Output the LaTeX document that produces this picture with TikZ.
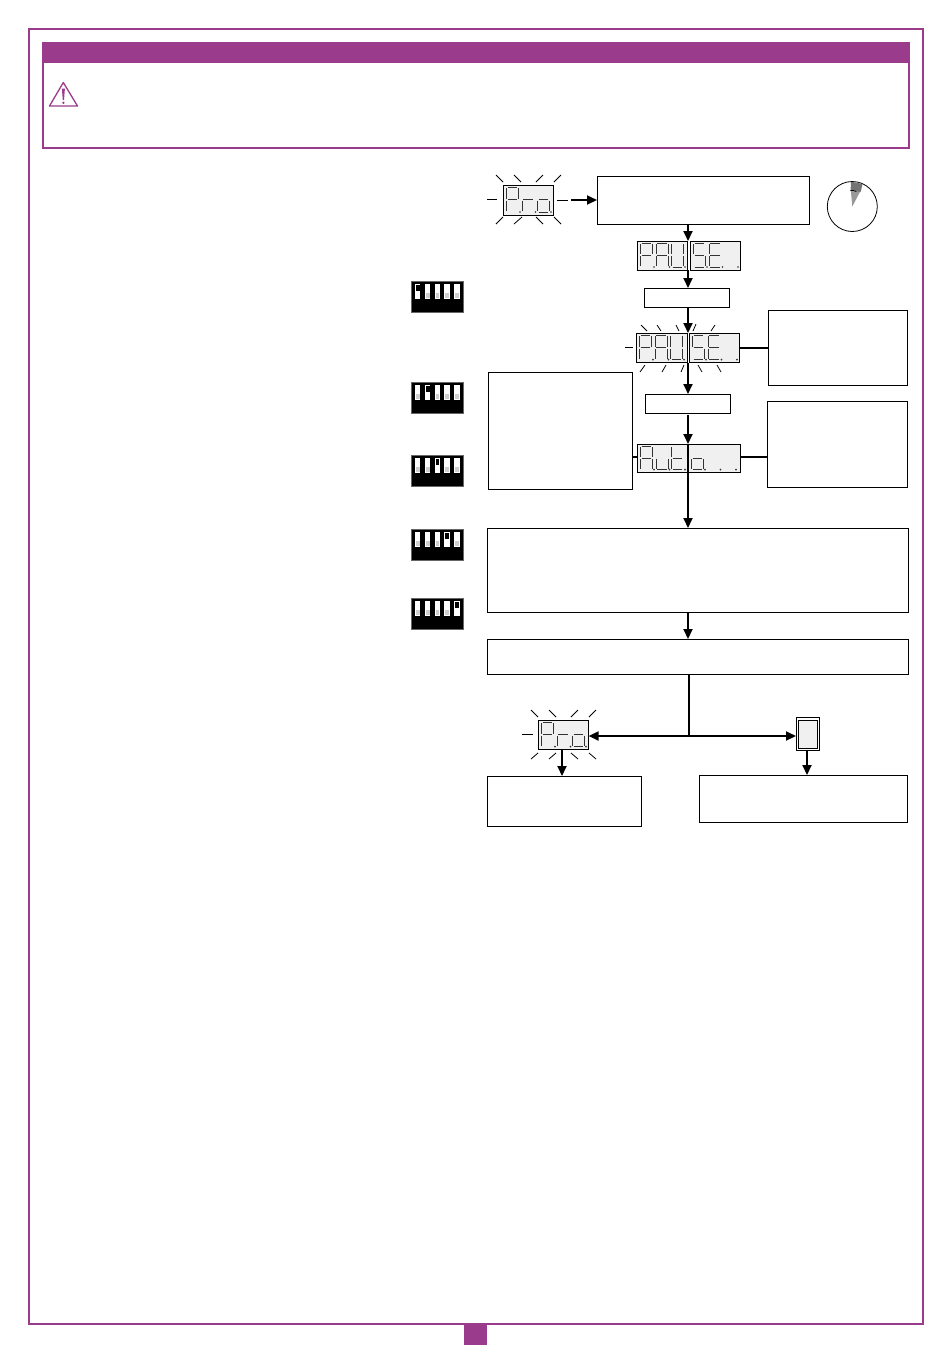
\documentclass[tikz,border=0pt]{standalone}
\usetikzlibrary{arrows.meta}
\definecolor{brand}{HTML}{9B3B8C}
\definecolor{lcdfill}{HTML}{F0F0F0}
\definecolor{dipgray}{HTML}{CFCFCF}
\expandafter\def\csname lcdseg@a\endcsname{(.1,0)--(.9,0)}
\expandafter\def\csname lcdseg@b\endcsname{(1,.04)--(1,.46)}
\expandafter\def\csname lcdseg@c\endcsname{(1,.54)--(1,.96)}
\expandafter\def\csname lcdseg@d\endcsname{(.1,1)--(.9,1)}
\expandafter\def\csname lcdseg@e\endcsname{(0,.54)--(0,.96)}
\expandafter\def\csname lcdseg@f\endcsname{(0,.04)--(0,.46)}
\expandafter\def\csname lcdseg@g\endcsname{(.1,.5)--(.9,.5)}
\expandafter\def\csname lcdseg@n\endcsname{(0,0)}
\tikzset{
  flowbox/.style={draw=black,line width=.8pt,fill=white,rectangle,inner sep=0pt,outer sep=0pt},
  lcdbox/.style={draw=black,line width=.9pt,fill=lcdfill,rectangle,inner sep=0pt,outer sep=0pt},
  segline/.style={draw=black!80,line width=.8pt},
  ray/.style={draw=black,line width=.8pt},
  arr/.style={draw=black,line width=1.9pt,-{Triangle[length=10pt,width=9pt]}},
  biarr/.style={draw=black,line width=1.9pt,{Triangle[length=10pt,width=9pt]}-{Triangle[length=10pt,width=9pt]}},
  link/.style={draw=black,line width=1.9pt},
  frameline/.style={draw=brand,line width=1.6pt},
}
% name x1 y1 x2 y2 style
\newcommand{\rectnode}[6]{%
  \pgfmathsetmacro{\rw}{#4-#2}\pgfmathsetmacro{\rh}{#5-#3}%
  \pgfmathsetmacro{\rx}{(#2+#4)/2}\pgfmathsetmacro{\ry}{(#3+#5)/2}%
  \node[#6,minimum width=\rw pt,minimum height=\rh pt] (#1) at (\rx,\ry) {};}
% x y height seglist
\newcommand{\lcddigit}[4]{%
  \begin{scope}[shift={(#1,#2)},x=12pt,y=-#3pt]
    \foreach \s in {#4}{%
      \expandafter\let\expandafter\segp\csname lcdseg@\s\endcsname
      \draw[segline] \segp;}
  \end{scope}
  \fill[black!80] (#1+13.5,#2+#3) circle (.9);}
% name x y w h d1 d2 d3
\newcommand{\lcdhalf}[8]{%
  \rectnode{#1}{#2}{#3}{#2+#4}{#3+#5}{lcdbox}%
  \pgfmathsetmacro{\dy}{#3+2.5}\pgfmathsetmacro{\dh}{#5-5.5}%
  \pgfmathsetmacro{\dxa}{#2+3.5}\pgfmathsetmacro{\dxb}{#2+19}\pgfmathsetmacro{\dxc}{#2+34.5}%
  \lcddigit{\dxa}{\dy}{\dh}{#6}\lcddigit{\dxb}{\dy}{\dh}{#7}\lcddigit{\dxc}{\dy}{\dh}{#8}}
% name y active-switch
\newcommand{\dipswitch}[3]{%
  \rectnode{#1}{411}{#2}{463}{#2+31}{fill=black,draw=black!60,line width=.5pt,rectangle,inner sep=0pt,outer sep=0pt}%
  \foreach \i/\sx in {1/415,2/425,3/434.7,4/444.4,5/454.4}{%
    \fill[white] (\sx,#2+3) rectangle (\sx+5.4,#2+18);
    \ifnum\i=#3\relax
      \fill[black] (\sx+.9,#2+4.2) rectangle (\sx+4.5,#2+9.5);
    \else
      \fill[dipgray] (\sx+.9,#2+11.5) rectangle (\sx+4.5,#2+17);
    \fi}}
\newcommand{\rays}[1]{\foreach \ax/\ay/\bx/\by in {#1}{\draw[ray] (\ax,\ay)--(\bx,\by);}}
\begin{document}
\begin{tikzpicture}[x=1pt,y=-1pt]
\useasboundingbox (0,0) rectangle (950,1353);
\fill[white] (0,0) rectangle (950,1353);
% page frame
\rectnode{pageframe}{29}{29}{923}{1324}{frameline,rectangle,inner sep=0pt,outer sep=0pt}
\rectnode{pagetab}{464}{1324}{487}{1345}{fill=brand,rectangle,inner sep=0pt,outer sep=0pt}
% warning box
\rectnode{warnbox}{43}{43}{909}{148}{frameline,rectangle,inner sep=0pt,outer sep=0pt}
\rectnode{warnhead}{42.5}{43}{909.5}{63}{fill=brand,rectangle,inner sep=0pt,outer sep=0pt}
\draw[draw=brand,line width=1.3pt,line join=round] (63.3,82.5)--(49.5,106)--(77.5,106)--cycle;
\fill[brand] (61.9,88.5)--(64.9,88.5)--(64,100)--(62.8,100)--cycle;
\fill[brand] (63.4,102.8) circle (1.3);
% dip switches
\dipswitch{dipa}{281}{1}
\dipswitch{dipb}{382}{2}
\dipswitch{dipc}{455}{3}
\dipswitch{dipd}{529}{4}
\dipswitch{dipe}{598}{5}
% helper coordinates for the main flow
\coordinate (flowx) at (688,0);
% Pro (top)
\lcdhalf{protop}{503}{185}{50}{30}{a,b,e,f,g}{e,g}{c,d,e,g}
\rays{496/175/503/182,514/175/521/182,536/182/543/175,554/182/561/175,487/199/497/199,557/200/568/200,496/224/503/217,514/224/522/217,536/217/543/224,554/217/561/224}
\coordinate (protail) at (571,200);
\rectnode{stepbox}{597}{176}{809}{224}{flowbox}
\draw[arr] (protail)--(stepbox.west |- protail);
% clock
\node[draw=black,line width=.8pt,circle,minimum size=50pt,inner sep=0pt,outer sep=0pt] (clock) at (852.3,206.5) {};
\fill[black!40] (clock.center)--(850.5,187)--(861.5,189)--cycle;
\fill[black!55] (850.8,182.5)--(851,190)--(860.5,192)--(862.5,184.5) arc (-65:-93:25)--cycle;
\draw[black,line width=.7pt] (850.3,190.5) arc (-100:-60:9);
% PAUSE
\lcdhalf{pausea}{637}{241}{50.6}{29}{a,b,e,f,g}{a,b,c,e,f,g}{b,c,d,e,f}
\lcdhalf{pauseb}{690}{241}{50.6}{29}{a,c,d,f,g}{a,d,e,f,g}{n}
\rectnode{keya}{644}{288}{729.6}{307}{flowbox}
\draw[arr] (stepbox.south -| flowx)--(pausea.north -| flowx);
\draw[arr] (pausea.south -| flowx)--(keya.north -| flowx);
% blinking PAUSE
\lcdhalf{blinka}{636}{333}{51}{29.6}{a,b,e,f,g}{a,b,c,e,f,g}{b,c,d,e,f}
\lcdhalf{blinkb}{689}{333}{50.6}{29.6}{a,c,d,f,g}{a,d,e,f,g}{n}
\rays{641/325/647/331,657/325/661/331,676/325/679/331,696/324/693/331,715/325/711/331,625/347/633/347,640/372/645/365,662/372/666/365,681/372/684/365,698/365/702/372,717/365/721/372}
\rectnode{notea}{768}{310}{907.5}{385}{flowbox}
\draw[link] (blinkb.east)--(notea.west |- blinkb.east);
\rectnode{keyb}{645}{394}{730.4}{413}{flowbox}
\draw[arr] (keya.south -| flowx)--(blinka.north -| flowx);
\draw[arr] (blinka.south -| flowx)--(keyb.north -| flowx);
% Auto
\lcdhalf{autoa}{637}{444}{51}{28.6}{a,b,c,e,f,g}{c,d,e}{d,e,f,g}
\lcdhalf{autob}{688}{444}{52.6}{28.6}{c,d,e,g}{n}{n}
\draw[arr,shorten <=2pt] (keyb.south -| flowx)--(autoa.north -| flowx);
\rectnode{noteb}{488}{372}{632.6}{489.4}{flowbox}
\rectnode{notec}{767}{401}{907.4}{487.4}{flowbox}
\coordinate (autoy) at (0,457);
\draw[link] (noteb.east |- autoy)--(autoa.west |- autoy);
\draw[link] (autob.east |- autoy)--(notec.west |- autoy);
% long boxes
\rectnode{longa}{487}{528}{908.4}{612.4}{flowbox}
\rectnode{longb}{487}{639}{908.4}{674.4}{flowbox}
\draw[arr] (autoa.south -| flowx)--(longa.north -| flowx);
\draw[link,line width=1.3pt] (autoa.north east)--(autoa.south east);
\draw[arr] (longa.south -| flowx)--(longb.north -| flowx);
% outcome branch
\coordinate (branch) at (689,736);
\lcdhalf{probot}{538}{720}{50.6}{29.6}{a,b,e,f,g}{e,g}{c,d,e,g}
\rays{531/710/538/717,549/710/556/717,571/717/578/710,589/717/596/710,522/734/533/734,531/759/538/753,549/759/556/753,571/753/578/759,589/753/596/759}
\rectnode{relayo}{796}{717}{819.6}{750.6}{flowbox}
\rectnode{relayi}{798.5}{720}{817.5}{748.6}{lcdbox}
\draw[link] (longb.south -| branch)--(branch);
\draw[biarr] (probot.east |- branch)--(relayo.west |- branch);
\rectnode{resa}{487}{776}{641}{826.4}{flowbox}
\rectnode{resb}{699}{775}{907.4}{822.4}{flowbox}
\coordinate (resax) at (562,0);
\coordinate (resbx) at (807,0);
\draw[arr] (probot.south -| resax)--(resa.north -| resax);
\draw[arr] (relayo.south -| resbx)--(resb.north -| resbx);
\end{tikzpicture}
\end{document}
